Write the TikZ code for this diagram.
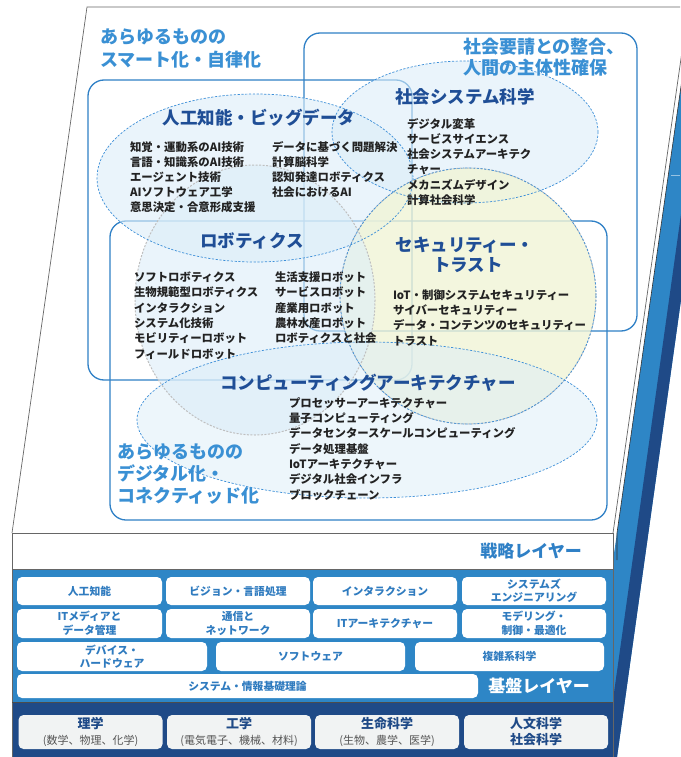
\documentclass[tikz,border=0pt]{standalone}
\usepackage{fontspec}
\setmainfont{Noto Sans CJK JP}
\definecolor{frameblue}{HTML}{2F80C6}
\definecolor{titleblue}{HTML}{3A90D4}
\definecolor{headblue}{HTML}{1F4E96}
\definecolor{baseblue}{HTML}{2E86C6}
\definecolor{darkblue}{HTML}{1F4A87}
\definecolor{boxtext}{HTML}{2F7BBF}
\definecolor{itemtext}{HTML}{222222}
\definecolor{dashblue}{HTML}{3D8FD8}
\definecolor{lightfill}{HTML}{DCEEF9}
\definecolor{yellowfill}{HTML}{F1F4D6}
\definecolor{graybox}{HTML}{F1F3F3}
\definecolor{paren}{HTML}{555555}
\begin{document}
\begin{tikzpicture}[x=1pt,y=-1pt,
  every node/.style={inner sep=0pt, outer sep=0pt},
  title/.style={font=\fontsize{18}{22}\selectfont\bfseries, text=titleblue, anchor=base west},
  head/.style={font=\fontsize{17.5}{21}\selectfont\bfseries, text=headblue},
  item/.style={font=\fontsize{11.4}{15}\selectfont\bfseries, text=itemtext, anchor=base west},
  region/.style={draw=frameblue, line width=1.3pt, rounded corners=16pt},
  dashell/.style={draw=dashblue, dash pattern=on 2.2pt off 1.6pt, line width=0.7pt},
  grayell/.style={draw=black!25, dash pattern=on 2pt off 1.5pt, line width=1pt},
  basebox/.style={fill=white, rounded corners=5pt, font=\fontsize{10.8}{13.5}\selectfont\bfseries, text=boxtext, align=center},
  botbox/.style={fill=graybox, rounded corners=5pt, font=\fontsize{12}{16}\selectfont, text=darkblue, align=center, minimum width=144pt, minimum height=34pt},
  edge/.style={draw=black!60, line width=0.7pt},
]
\useasboundingbox (0,0) rectangle (680,757);
% ---------- right side face ----------
\fill[baseblue] (693.4,0) -- (617,533) -- (613,560) -- (613,757) -- (617,757) -- (723,0) -- cycle;
\fill[darkblue] (711,0) -- (605,757) -- (617,757) -- (723,0) -- cycle;
\draw[white, opacity=0.5, line width=0.6pt] (680,175) -- (671,175);
% ---------- top panel ----------
\fill[white] (87,7) -- (689.4,7) -- (613,533) -- (12,533) -- cycle;
\draw[edge] (12,533) -- (87,7) -- (680,7);
\draw[edge] (689.4,0) -- (613,533);
\draw[black!80, line width=0.6pt] (693.4,0) -- (617,533) -- (617,560);
% ---------- front face ----------
\fill[white] (12,533) rectangle (613,569);
\fill[baseblue] (12,569) rectangle (613,702);
\fill[darkblue] (12,702) rectangle (613,757);
\draw[edge] (12,533) -- (613,533);
\draw[edge] (12,569) -- (613,569);
\draw[edge] (12,533) -- (12,757);
\draw[edge] (613,533) -- (613,757);
\draw[black!70, line width=0.8pt] (12,702) -- (613,702);
% ---------- region frames ----------
\draw[region] (88,80) rectangle (412,380);
\draw[region] (304,33) rectangle (637,331);
\draw[region] (110,221) rectangle (607,520);
% ---------- translucent areas ----------
\fill[lightfill, fill opacity=0.6] (255,178) ellipse [x radius=158, y radius=84];
\fill[lightfill, fill opacity=0.6] (465,132) ellipse [x radius=133, y radius=71];
\fill[yellowfill, fill opacity=0.8] (468,296) circle [radius=128];
\fill[lightfill, fill opacity=0.6] (255,300) ellipse [x radius=120, y radius=135];
\fill[lightfill, fill opacity=0.5] (367,420) ellipse [x radius=230, y radius=78];
\draw[grayell] (255,300) ellipse [x radius=120, y radius=135];
\draw[grayell] (468,296) circle [radius=128];
\draw[dashell] (255,178) ellipse [x radius=158, y radius=84];
\draw[dashell] (465,132) ellipse [x radius=133, y radius=71];
\draw[dashell] (367,420) ellipse [x radius=230, y radius=78];
\draw[dashell] (468,296) circle [radius=128];
% ---------- titles ----------
\node[title] (t1a) at (100,43.8) {あらゆるものの};
\node[title] (t1b) at (100,66.8) {スマート化・自律化};
\node[title] (t2a) at (463,53.8) {社会要請との整合、};
\node[title] (t2b) at (463,74.8) {人間の主体性確保};
\node[title] (t3a) at (117,458.8) {あらゆるものの};
\node[title] (t3b) at (117,480.8) {デジタル化・};
\node[title] (t3c) at (117,502.8) {コネクティッド化};
% ---------- headers ----------
\node[head] (hai) at (259,118) {人工知能・ビッグデータ};
\node[head] (hss) at (465,97) {社会システム科学};
\node[head] (hro) at (252,241) {ロボティクス};
\node[head] (hsa) at (465,245) {セキュリティー・};
\node[head] (hsb) at (468,265) {トラスト};
\node[head] (hco) at (368,383) {コンピューティングアーキテクチャー};
% ---------- items ----------
\foreach \t [count=\i] in {知覚・運動系のAI技術,言語・知識系のAI技術,エージェント技術,AIソフトウェア工学,意思決定・合意形成支援}
  \node[item] (ail\i) at (130,151.3+15*\i-15) {\t};
\foreach \t [count=\i] in {データに基づく問題解決,計算脳科学,認知発達ロボティクス,社会におけるAI}
  \node[item] (air\i) at (272,151.3+15*\i-15) {\t};
\foreach \t [count=\i] in {デジタル変革,サービスサイエンス,社会システムアーキテク,チャー,メカニズムデザイン,計算社会科学}
  \node[item] (ss\i) at (407,128.3+15.2*\i-15.2) {\t};
\foreach \t [count=\i] in {ソフトロボティクス,生物規範型ロボティクス,インタラクション,システム化技術,モビリティーロボット,フィールドロボット}
  \node[item] (rl\i) at (134,281.3+15.4*\i-15.4) {\t};
\foreach \t [count=\i] in {生活支援ロボット,サービスロボット,産業用ロボット,農林水産ロボット,ロボティクスと社会}
  \node[item] (rr\i) at (275,281.3+15.4*\i-15.4) {\t};
\foreach \t [count=\i] in {IoT・制御システムセキュリティー,サイバーセキュリティー,データ・コンテンツのセキュリティー,トラスト}
  \node[item] (se\i) at (393,299.3+15.3*\i-15.3) {\t};
\foreach \t [count=\i] in {プロセッサーアーキテクチャー,量子コンピューティング,データセンタースケールコンピューティング,データ処理基盤,IoTアーキテクチャー,デジタル社会インフラ,ブロックチェーン}
  \node[item] (co\i) at (289,407.3+15.3*\i-15.3) {\t};
% ---------- layer labels ----------
\node[font=\fontsize{17}{20}\selectfont\bfseries, text=frameblue] (strat) at (531,551) {戦略レイヤー};
\node[font=\fontsize{17}{20}\selectfont\bfseries, text=white] (kiban) at (539,686) {基盤レイヤー};
% ---------- base layer boxes ----------
\node[basebox, minimum width=145pt, minimum height=28pt] (b11) at (89.5,591) {人工知能};
\node[basebox, minimum width=144pt, minimum height=28pt] (b12) at (238,591) {ビジョン・言語処理};
\node[basebox, minimum width=144pt, minimum height=28pt] (b13) at (385,591) {インタラクション};
\node[basebox, minimum width=144pt, minimum height=28pt] (b14) at (534,591) {システムズ\\エンジニアリング};
\node[basebox, minimum width=145pt, minimum height=29pt] (b21) at (89.5,623.5) {ITメディアと\\データ管理};
\node[basebox, minimum width=144pt, minimum height=29pt] (b22) at (238,623.5) {通信と\\ネットワーク};
\node[basebox, minimum width=144pt, minimum height=29pt] (b23) at (385,623.5) {ITアーキテクチャー};
\node[basebox, minimum width=144pt, minimum height=29pt] (b24) at (534,623.5) {モデリング・\\制御・最適化};
\node[basebox, minimum width=190pt, minimum height=29pt] (b31) at (112,656.5) {デバイス・\\ハードウェア};
\node[basebox, minimum width=189pt, minimum height=29pt] (b32) at (310.5,656.5) {ソフトウェア};
\node[basebox, minimum width=189pt, minimum height=29pt] (b33) at (509.5,656.5) {複雑系科学};
\node[basebox, minimum width=461pt, minimum height=24pt] (b41) at (247.5,686) {システム・情報基礎理論};
% ---------- bottom boxes ----------
\node[botbox] (s1) at (90.5,732) {{\bfseries\fontsize{13}{16}\selectfont 理学}\\{\color{paren}\fontsize{11}{16}\selectfont (数学、物理、化学)}};
\node[botbox] (s2) at (239,732) {{\bfseries\fontsize{13}{16}\selectfont 工学}\\{\color{paren}\fontsize{11}{16}\selectfont (電気電子、機械、材料)}};
\node[botbox] (s3) at (387,732) {{\bfseries\fontsize{13}{16}\selectfont 生命科学}\\{\color{paren}\fontsize{11}{16}\selectfont (生物、農学、医学)}};
\node[botbox] (s4) at (536,732) {{\bfseries\fontsize{13}{16}\selectfont 人文科学}\\{\bfseries\fontsize{13}{16}\selectfont 社会科学}};
\end{tikzpicture}
\end{document}
